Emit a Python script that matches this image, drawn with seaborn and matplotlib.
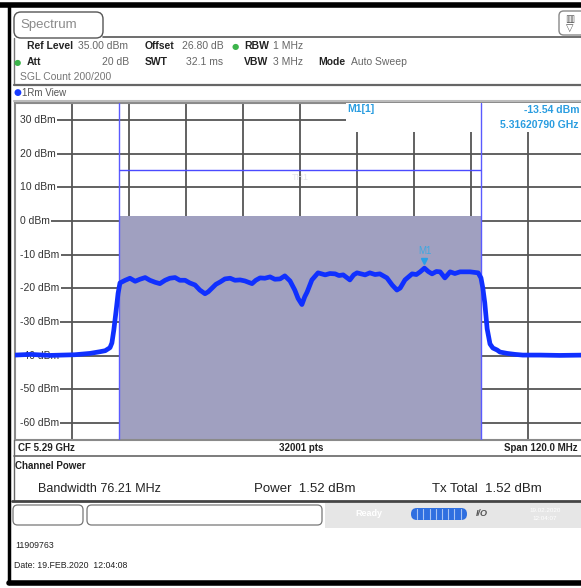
import matplotlib
matplotlib.use("Agg")
import numpy as np
import pandas as pd
import seaborn as sns
import matplotlib.pyplot as plt
from matplotlib.patches import Rectangle, FancyBboxPatch
from matplotlib.lines import Line2D

# trace: offset from CF (MHz) and level (dBm)
trace_offset_mhz = [
    -60.0, -56.8, -52.6, -47.4, -44.2, -42.1, -41.0, -40.0, -39.6, -39.2,
    -38.7, -38.3, -37.9, -36.8, -35.8, -34.7, -33.7, -32.6, -31.6, -30.5,
    -29.5, -28.4, -27.4, -26.3, -25.3, -24.2, -23.2, -22.1, -21.1, -20.0,
    -19.3, -18.5, -17.7, -16.8, -15.8, -14.7, -13.7, -12.6, -11.6, -10.1,
    -9.3, -8.4, -7.4, -6.3, -5.3, -4.2, -3.2, -2.1, -1.1, -0.4,
    0.4, 1.0, 1.5, 2.5, 3.8, 5.3, 6.3, 7.4, 8.2, 9.1,
    10.5, 11.3, 12.0, 13.7, 14.7, 15.8, 16.8, 18.3, 19.4, 20.4,
    21.1, 22.1, 23.6, 24.5, 25.3, 26.2, 27.0, 27.8, 28.7, 29.5,
    30.5, 31.6, 32.6, 33.7, 35.8, 37.5, 38.1, 38.5, 38.9, 39.4,
    40.0, 40.6, 41.5, 42.1, 43.6, 45.3, 46.9, 50.5, 54.7, 60.0,
]
trace_dbm = [
    -39.8, -39.6, -39.9, -39.7, -39.3, -38.8, -38.5, -37.6, -36.2, -32.4,
    -26.5, -21.5, -18.4, -17.6, -17.0, -17.9, -17.3, -16.8, -17.6, -18.2,
    -18.6, -17.6, -17.0, -16.8, -17.6, -17.6, -18.4, -19.0, -20.5, -21.6,
    -21.0, -19.9, -18.8, -18.1, -17.2, -17.0, -17.6, -17.5, -17.8, -18.6,
    -17.6, -16.9, -17.0, -16.6, -17.3, -17.2, -16.3, -17.8, -20.5, -23.0,
    -24.8, -22.5, -21.1, -17.5, -15.4, -16.0, -15.6, -15.7, -16.2, -16.0,
    -17.5, -16.0, -15.4, -16.0, -15.4, -15.9, -15.7, -16.9, -19.0, -20.5,
    -19.9, -17.5, -15.7, -15.9, -15.1, -14.0, -15.0, -15.7, -15.0, -15.1,
    -16.9, -15.1, -15.6, -15.1, -15.1, -15.4, -16.9, -20.0, -24.3, -32.0,
    -36.5, -37.7, -38.3, -38.9, -39.3, -39.6, -39.8, -39.8, -39.9, -39.8,
]

y_grid_dbm = [30, 20, 10, 0, -10, -20, -30, -40, -50, -60]
x_grid_mhz = [-48, -36, -24, -12, 0, 12, 24, 36, 48]
channel_bw_mhz = 76.21
channel_power_dbm = 1.52
threshold_dbm = 15
marker_mhz = 26.2
marker_dbm = -13.54

W, H = 581, 588
FONT = ["Liberation Sans", "DejaVu Sans"]

sns.set_style("white")
plt.rcParams["font.family"] = FONT

fig = plt.figure(figsize=(W / 100, H / 100), dpi=100)
fig.patch.set_facecolor("white")


def fx(x):
    return x / W


def fy(y):
    return 1 - y / H


def ftext(x, y, s, **kw):
    kw.setdefault("fontsize", 7.5)
    kw.setdefault("va", "center")
    fig.text(fx(x), fy(y), s, **kw)


def fline(x0, y0, x1, y1, **kw):
    fig.add_artist(Line2D([fx(x0), fx(x1)], [fy(y0), fy(y1)], **kw))


# ---- main spectrum axes ----
ax = fig.add_axes([fx(15), fy(440), 570 / W, 337 / H])
ax.set_xlim(-60, 60)
ax.set_ylim(-65, 35)
ax.set_xticks([])
ax.set_yticks([])
for sp in ax.spines.values():
    sp.set_color("#8a8a8a")
    sp.set_linewidth(1.5)

for g in y_grid_dbm:
    ax.axhline(g, color="#555555", lw=1.3, zorder=1)
for g in x_grid_mhz:
    ax.axvline(g, color="#555555", lw=1.3, zorder=1)

# white strip so the grid starts after the level labels
ax.add_patch(Rectangle((-60, -65), 1.0, 100, facecolor="white",
                       edgecolor="none", zorder=1.5))
for g in y_grid_dbm:
    ax.text(-58.9, g, f"{g} dBm", fontsize=7.5, color="#333333", va="center",
            ha="left", zorder=2,
            bbox=dict(facecolor="white", edgecolor="none", pad=0.8))

half = channel_bw_mhz / 2
ax.fill_between([-half, half], -65, channel_power_dbm, color="#a0a0c0",
                lw=0, zorder=2.5)

# marker readout box (hides the grid in the top right corner)
ax.add_patch(Rectangle((9.7, 26.4), 60, 10, facecolor="white",
                       edgecolor="none", zorder=2.6))

ax.axvline(-half, color="#5a5aff", lw=1.0, zorder=3)
ax.axvline(half, color="#5a5aff", lw=1.0, zorder=3)
ax.hlines(threshold_dbm, -half, half, color="#4a4aff", lw=1.0, zorder=3)
ax.text(0, threshold_dbm - 2, "TH1", color="#e4e4ec", fontsize=6.5,
        ha="center", va="center", zorder=3)

df = pd.DataFrame({"offset": trace_offset_mhz, "level": trace_dbm})
sns.lineplot(data=df, x="offset", y="level", ax=ax, color="#1030ff",
             linewidth=3.4, zorder=4, legend=False)
ax.set_xlabel("")
ax.set_ylabel("")

ax.plot([marker_mhz], [marker_dbm + 1.6], marker="v", color="#28a0e6",
        ms=5, ls="none", zorder=5)
ax.text(marker_mhz, marker_dbm + 4.6, "M1", color="#40a8e0", fontsize=7,
        ha="center", va="center", zorder=5)

ftext(347, 109, "M1[1]", color="#2a9de0", fontweight="bold", fontsize=7.5)
ftext(579, 110, "-13.54 dBm", color="#2a9de0", fontweight="bold",
      fontsize=7.5, ha="right")
ftext(579, 125, "5.31620790 GHz", color="#2a9de0", fontweight="bold",
      fontsize=7.5, ha="right")

# ---- frame and header ----
fline(0, 5, W, 5, color="black", lw=4)
fline(9, 5, 9, 583, color="black", lw=2.5)
fline(9, 583, W, 583, color="black", lw=4)

tab = FancyBboxPatch((fx(14), fy(38)), fx(103) - fx(14), fy(12) - fy(38),
                     boxstyle="round,pad=0,rounding_size=0.012",
                     transform=fig.transFigure, facecolor="white",
                     edgecolor="#555555", lw=1.0)
fig.add_artist(tab)
fline(103, 37, W, 37, color="#555555", lw=1.2)
fline(14, 38, 14, 84, color="#777777", lw=1.0)
ftext(20, 25, "Spectrum", fontsize=9.5, color="#8a8a8a")

icon = FancyBboxPatch((fx(559), fy(35)), fx(585) - fx(559), fy(11) - fy(35),
                      boxstyle="round,pad=0,rounding_size=0.008",
                      transform=fig.transFigure, facecolor="white",
                      edgecolor="#888888", lw=1.0)
fig.add_artist(icon)
ftext(570, 19, "▥", fontsize=7, color="#555555", family="DejaVu Sans",
      ha="center")
ftext(570, 28, "▽", fontsize=7, color="#555555", family="DejaVu Sans",
      ha="center")

ftext(27, 46, "Ref Level", fontweight="bold", color="#222222")
ftext(78, 46, "35.00 dBm", color="#666666")
ftext(145, 46, "Offset", fontweight="bold", color="#222222")
ftext(182, 46, "26.80 dB", color="#666666")
ftext(232, 46, "●", color="#3cb44b", fontsize=6, family="DejaVu Sans")
ftext(244, 46, "RBW", fontweight="bold", color="#222222")
ftext(273, 46, "1 MHz", color="#666666")

ftext(14, 62, "●", color="#3cb44b", fontsize=6, family="DejaVu Sans")
ftext(27, 62, "Att", fontweight="bold", color="#222222")
ftext(129, 62, "20 dB", color="#666666", ha="right")
ftext(145, 62, "SWT", fontweight="bold", color="#222222")
ftext(186, 62, "32.1 ms", color="#666666")
ftext(244, 62, "VBW", fontweight="bold", color="#222222")
ftext(273, 62, "3 MHz", color="#666666")
ftext(318, 62, "Mode", fontweight="bold", color="#222222")
ftext(351, 62, "Auto Sweep", color="#666666")
ftext(20, 77, "SGL Count 200/200", color="#777777")

fline(14, 85, W, 85, color="#666666", lw=1.6)
ftext(14, 93, "●", color="#1a3cff", fontsize=6.5, family="DejaVu Sans")
ftext(22, 93, "1Rm View", color="#555555", fontsize=7)
fline(14, 101, W, 101, color="#bbbbbb", lw=1.5)

# ---- footer ----
ftext(18, 448, "CF 5.29 GHz", fontweight="bold", color="#222222", fontsize=7)
ftext(301, 448, "32001 pts", fontweight="bold", color="#222222", fontsize=7,
      ha="center")
ftext(578, 448, "Span 120.0 MHz", fontweight="bold", color="#222222",
      fontsize=7, ha="right")
fline(14, 456, W, 456, color="#666666", lw=1.2)
fline(14, 440, 14, 500, color="#666666", lw=1.0)
ftext(15, 466, "Channel Power", fontweight="bold", color="#222222",
      fontsize=7)
ftext(38, 489, "Bandwidth 76.21 MHz", color="#222222", fontsize=9)
ftext(254, 489, "Power  1.52 dBm", color="#222222", fontsize=9.5)
ftext(432, 489, "Tx Total  1.52 dBm", color="#222222", fontsize=9.5)
fline(12, 501, W, 501, color="#444444", lw=2.0)

# status bar
fig.add_artist(Rectangle((fx(325), fy(528)), fx(W) - fx(325), fy(503) - fy(528),
                         transform=fig.transFigure, facecolor="#e6e6e6",
                         edgecolor="none"))
for x0, x1 in [(13, 83), (87, 322)]:
    fig.add_artist(FancyBboxPatch((fx(x0), fy(525)), fx(x1) - fx(x0),
                                  fy(505) - fy(525),
                                  boxstyle="round,pad=0,rounding_size=0.008",
                                  transform=fig.transFigure,
                                  facecolor="white", edgecolor="#777777",
                                  lw=0.9))
ftext(355, 514, "Ready", color="white", fontsize=6.5, fontweight="bold")
fig.add_artist(FancyBboxPatch((fx(411), fy(520)), fx(467) - fx(411),
                              fy(508) - fy(520),
                              boxstyle="round,pad=0,rounding_size=0.01",
                              transform=fig.transFigure,
                              facecolor="#2f6fe0", edgecolor="none"))
for k in range(1, 9):
    fline(411 + k * 6.2, 509, 411 + k * 6.2, 519, color="#a8c4f4", lw=0.8)
ftext(476, 514, "I/O", color="#555555", fontsize=6.5, fontweight="bold",
      style="italic")
ftext(545, 510, "19.02.2020", color="white", fontsize=4.5, ha="center")
ftext(545, 518, "12:04:07", color="white", fontsize=4.5, ha="center")

ftext(15, 545, "11909763", color="#222222", fontsize=6.3)
ftext(14, 566, "Date: 19.FEB.2020  12:04:08", color="#222222", fontsize=6.3)

fig.savefig("out.png", dpi=100, facecolor="white")
